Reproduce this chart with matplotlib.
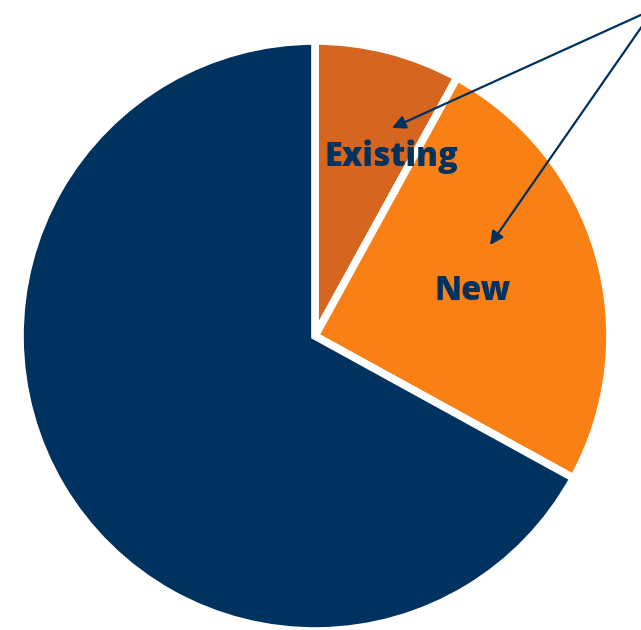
import matplotlib
matplotlib.use("Agg")
import matplotlib.pyplot as plt

# Значення частин (у відсотках), порядок за годинниковою стрілкою від 12 години
labels = ["Existing", "New", "Other"]
shares = [8, 25, 67]
colors = ["#D6661F", "#F98014", "#00325F"]
navy = "#00325F"

fig = plt.figure(figsize=(6.41, 6.30), dpi=100)
ax = fig.add_axes([0, 0, 1, 1])

ax.pie(shares, colors=colors, startangle=90, counterclock=False,
       center=(315, 294), radius=295, frame=True,
       wedgeprops=dict(edgecolor="white", linewidth=5.5))
ax.set_xlim(0, 641)
ax.set_ylim(0, 630)
ax.set_aspect("equal")
ax.axis("off")

# Підписи
ax.text(391, 473, labels[0], ha="center", va="center", fontsize=23.5,
        fontweight="heavy", color=navy, family="Open Sans")
ax.text(473, 339, labels[1], ha="center", va="center", fontsize=23.5,
        fontweight="heavy", color=navy, family="Open Sans")

# Стрілки з-за правого краю
src = (654, 621)
for tip in [(392, 502), (490, 385)]:
    ax.annotate("", xy=tip, xytext=src, annotation_clip=False,
                arrowprops=dict(arrowstyle="-|>", color=navy, lw=1.6,
                                mutation_scale=20, shrinkA=0, shrinkB=0))

fig.savefig("out.png", dpi=100)
